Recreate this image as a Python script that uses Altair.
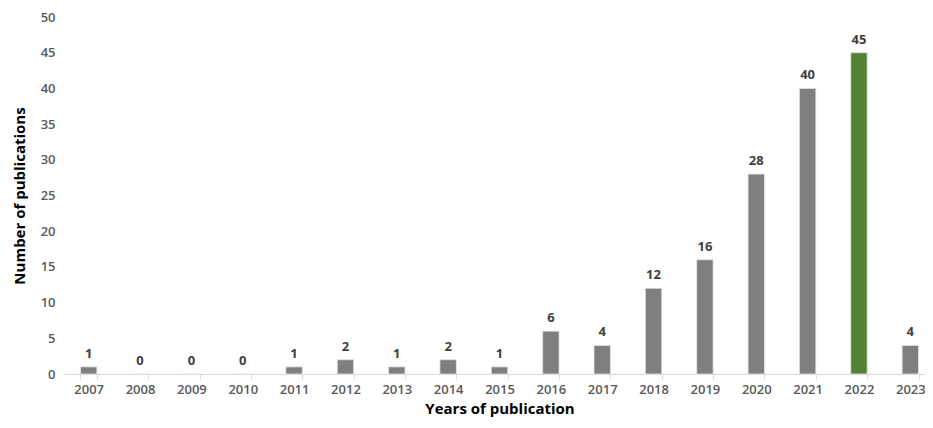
import altair as alt
import pandas as pd

years = ["2007", "2008", "2009", "2010", "2011", "2012", "2013", "2014", "2015",
         "2016", "2017", "2018", "2019", "2020", "2021", "2022", "2023"]
counts = [1, 0, 0, 0, 1, 2, 1, 2, 1, 6, 4, 12, 16, 28, 40, 45, 4]
highlight = ["2022"]

df = pd.DataFrame({"year": years, "count": counts})
df["hl"] = df["year"].isin(highlight).map({True: "yes", False: "no"})

font = "Open Sans"

x = alt.X("year:N", sort=years, title="Years of publication",
          scale=alt.Scale(paddingInner=0.68, paddingOuter=0.34, range=[0, 873]),
          axis=alt.Axis(labelAngle=0, labelFont=font, labelFontSize=13, labelFontWeight=600,
                        labelColor="#595959", labelPadding=4,
                        domainColor="#d9d9d9", tickColor="#d9d9d9", tickSize=5, tickBand="extent",
                        titleFont=font, titleFontSize=15, titleFontWeight="bold", titleColor="#000000",
                        titlePadding=5))
y = alt.Y("count:Q", title="Number of publications",
          scale=alt.Scale(domain=[0, 50], nice=False),
          axis=alt.Axis(values=list(range(0, 51, 5)), grid=False, domain=False, ticks=False,
                        labelOverlap=False,
                        labelFont=font, labelFontSize=13, labelFontWeight=600,
                        labelColor="#595959", labelPadding=8,
                        titleFont=font, titleFontSize=15, titleFontWeight="bold", titleColor="#000000",
                        titlePadding=13))

bars = alt.Chart(df).mark_bar(stroke="#e6e6e6", strokeWidth=0.8).encode(
    x=x, y=y,
    color=alt.Color("hl:N", scale=alt.Scale(domain=["no", "yes"], range=["#7f7f7f", "#548235"]),
                    legend=None),
)

labels = alt.Chart(df).mark_text(dy=-13, font=font, fontSize=13, fontWeight="bold",
                                 color="#404040").encode(
    x=x, y=y, text="count:Q")

chart = (bars + labels).properties(
    width=862, height=357,
    autosize=alt.AutoSizeParams(type="none"),
    padding={"left": 55, "top": 9, "right": 0, "bottom": 46},
).configure_view(stroke=None).configure_axis(labelOverlap=False)

chart.save("out.html", embed_options={"renderer": "svg", "actions": False})
